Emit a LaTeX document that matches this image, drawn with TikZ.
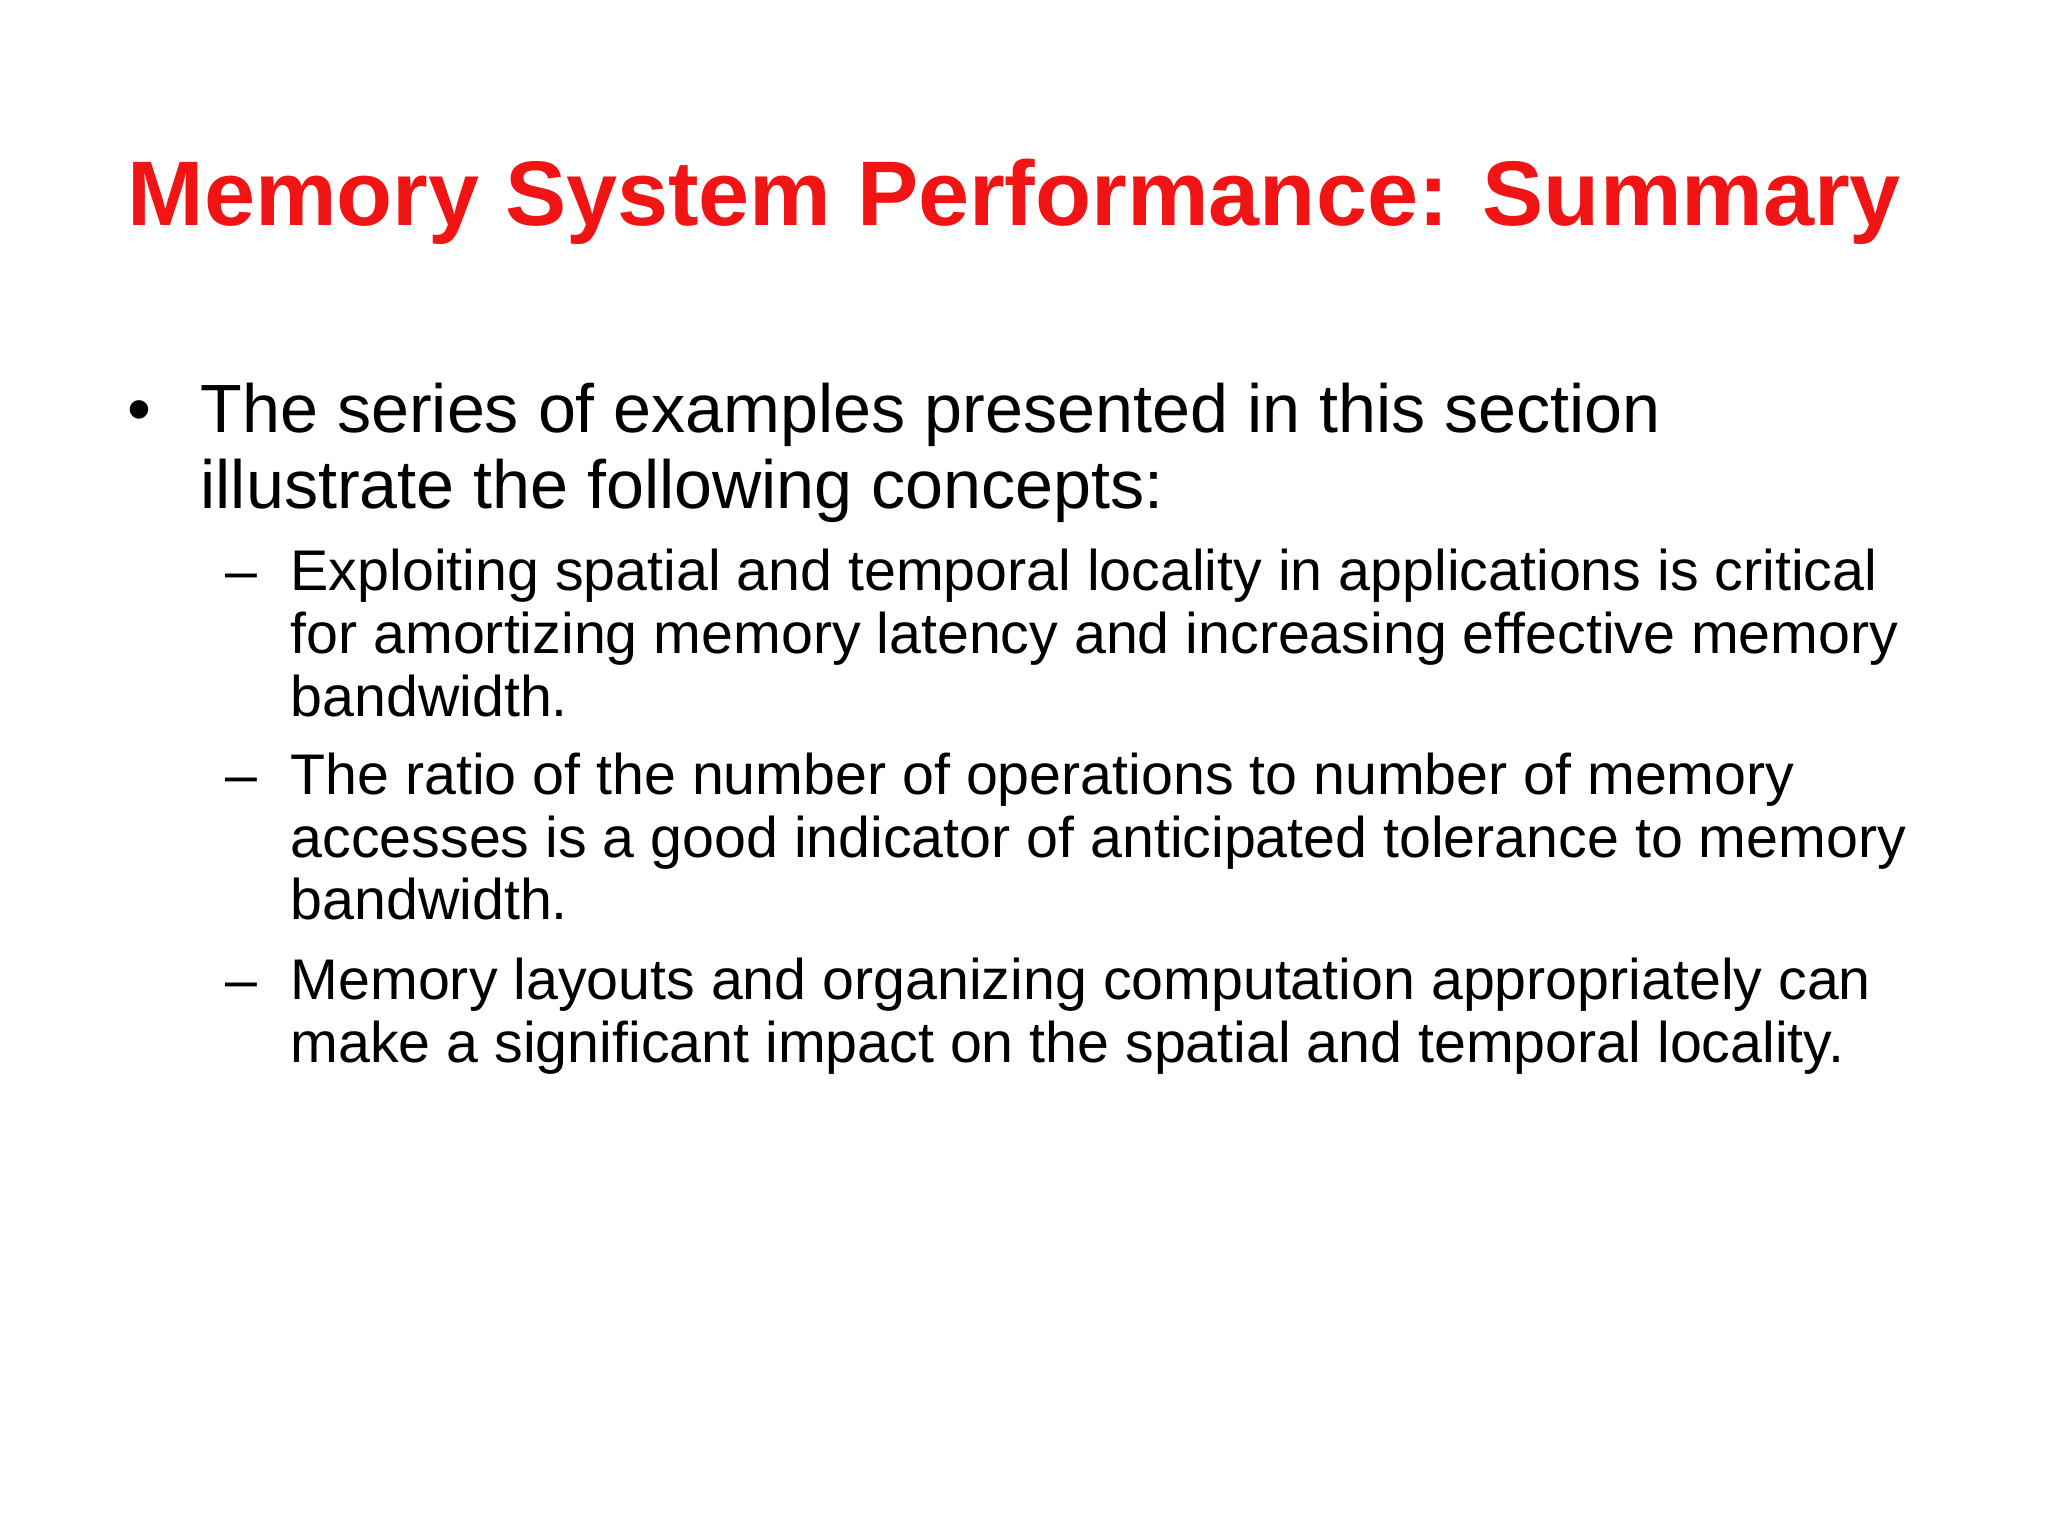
\documentclass[tikz,border=0pt]{standalone}
\usepackage{fontspec}
\setmainfont{Liberation Sans}
\definecolor{titlered}{RGB}{240,20,20}
\begin{document}
\begin{tikzpicture}[x=0.01cm,y=-0.01cm,
  ttl/.style={anchor=base west,inner sep=0pt,font=\fontsize{26.1pt}{30pt}\selectfont\bfseries,text=titlered},
  lone/.style={anchor=base west,inner sep=0pt,font=\fontsize{19.4pt}{24pt}\selectfont},
  ltwo/.style={anchor=base west,inner sep=0pt,font=\fontsize{16.3pt}{21pt}\selectfont}]
\useasboundingbox (0,0) rectangle (2048,1536);
\node[ttl] (title) at (127,225) {Memory System Performance: Summary};
\node[lone] (b1) at (127,432) {•};
\node[lone] (l1) at (200,432) {The series of examples presented in this section};
\node[lone] (l2) at (200,508) {illustrate the following concepts:};
\node[ltwo] (d1) at (225,590) {–};
\node[ltwo] (a1) at (290,590) {Exploiting spatial and temporal locality in applications is critical};
\node[ltwo] (a2) at (290,653) {for amortizing memory latency and increasing effective memory};
\node[ltwo] (a3) at (290,716) {bandwidth.};
\node[ltwo] (d2) at (225,794) {–};
\node[ltwo] (c1) at (290,794) {The ratio of the number of operations to number of memory};
\node[ltwo] (c2) at (290,857) {accesses is a good indicator of anticipated tolerance to memory};
\node[ltwo] (c3) at (290,919) {bandwidth.};
\node[ltwo] (d3) at (225,999) {–};
\node[ltwo] (e1) at (290,999) {Memory layouts and organizing computation appropriately can};
\node[ltwo] (e2) at (290,1062) {make a significant impact on the spatial and temporal locality.};
\end{tikzpicture}
\end{document}
